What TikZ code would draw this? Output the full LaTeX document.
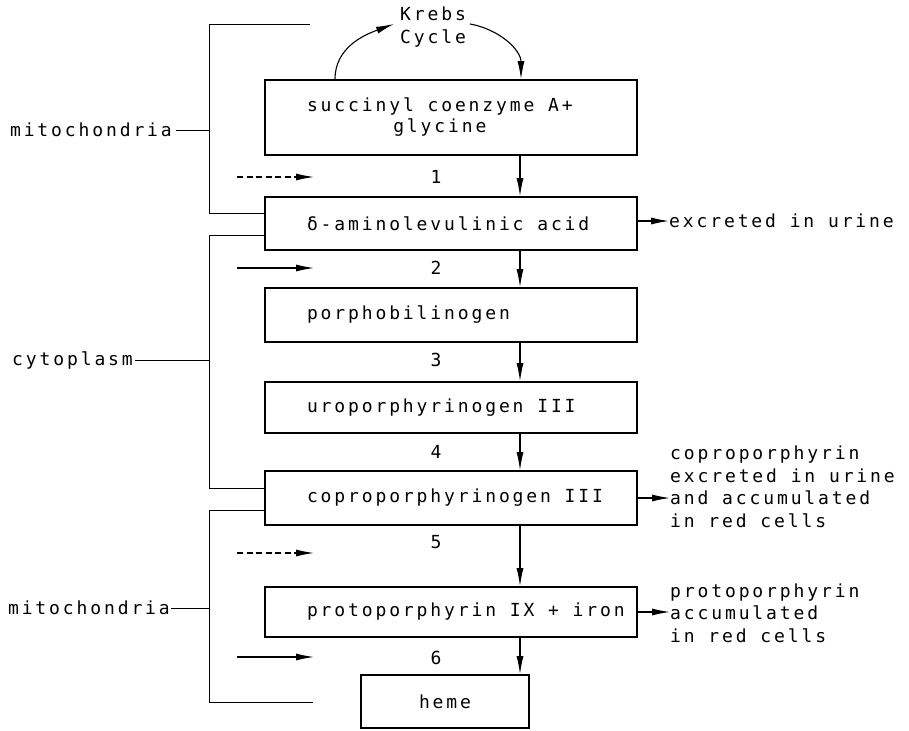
\documentclass[tikz,border=0pt]{standalone}
\usepackage{fontspec}
\setmainfont{DejaVu Sans Mono}[LetterSpace=16]
\usetikzlibrary{arrows.meta}
\tikzset{
  box/.style={draw, line width=1.7pt, minimum width=372pt, inner sep=0pt},
  txt/.style={inner sep=0pt, align=left},
  conn/.style={line width=1.1pt, -{Latex[length=18pt,width=7pt]}},
  conndash/.style={conn, dash pattern=on 6pt off 3.5pt},
  brk/.style={line width=0.9pt},
}
\newcommand{\lbox}[1]{\makebox[288pt][l]{#1}}
\begin{document}
\begin{tikzpicture}[x=1pt,y=-1pt,font=\fontsize{18}{22.5}\selectfont]
\useasboundingbox (0,0) rectangle (909,730);
% boxes
\node[box, minimum height=75pt] (b1) at (451,117.5) {\lbox{\begin{tabular}{@{}c@{}}succinyl coenzyme A+\\[-1pt] glycine\end{tabular}}};
\node[box, minimum height=53pt] (b2) at (451,223.5) {\lbox{δ-aminolevulinic acid}};
\node[box, minimum height=54pt] (b3) at (451,315) {\lbox{porphobilinogen}};
\node[box, minimum height=51pt] (b4) at (451,407.5) {\lbox{uroporphyrinogen III}};
\node[box, minimum height=54pt] (b5) at (451,498) {\lbox{coproporphyrinogen III}};
\node[box, minimum height=50pt] (b6) at (451,612) {\lbox{protoporphyrin IX + iron}};
\node[box, minimum height=53pt, minimum width=168pt] (b7) at (445,701.5) {heme};
% Krebs
\node[txt, align=center] (kc) at (433,27) {Krebs\\Cycle};
\coordinate (kl) at (394,24);
\coordinate (kr) at (470,24);
\draw[conn] (b1.north -| 335,0) to[out=90,in=200] (kl);
\draw[conn] (kr) to[out=-10,in=90] (b1.north -| 521,0);
% vertical arrows
\coordinate (ax) at (520,0);
\draw[conn] (b1.south -| ax) -- (b2.north -| ax);
\draw[conn] (b2.south -| ax) -- (b3.north -| ax);
\draw[conn] (b3.south -| ax) -- (b4.north -| ax);
\draw[conn] (b4.south -| ax) -- (b5.north -| ax);
\draw[conn] (b5.south -| ax) -- (b6.north -| ax);
\draw[conn] (b6.south -| ax) -- (b7.north -| ax);
% step numbers
\node[txt] (n1) at (436,177) {1};
\node[txt] (n2) at (436,268) {2};
\node[txt] (n3) at (436,360) {3};
\node[txt] (n4) at (436,452) {4};
\node[txt] (n5) at (436,542) {5};
\node[txt] (n6) at (436,658) {6};
% left small arrows
\coordinate (a1s) at (237,177); \coordinate (a1e) at (314,177);
\coordinate (a2s) at (237,268); \coordinate (a2e) at (314,268);
\coordinate (a3s) at (237,553); \coordinate (a3e) at (314,553);
\coordinate (a4s) at (237,657); \coordinate (a4e) at (314,657);
\draw[conndash] (a1s) -- (a1e);
\draw[conn] (a2s) -- (a2e);
\draw[conndash] (a3s) -- (a3e);
\draw[conn] (a4s) -- (a4e);
% brackets
\coordinate (t1) at (310,24);
\coordinate (bx) at (209,0);
\draw[brk] (t1) -- (t1 -| bx) -- (bx |- 0,213) -- (b2.west |- 0,213);
\draw[brk] (b2.west |- 0,235) -- (bx |- 0,235) -- (bx |- 0,488) -- (b5.west |- 0,488);
\coordinate (t3) at (313,702);
\draw[brk] (b5.west |- 0,510) -- (bx |- 0,510) -- (bx |- t3) -- (t3);
% bracket labels
\node[txt, anchor=east] (l1) at (172,130) {mitochondria};
\node[txt, anchor=east] (l2) at (133,360) {cytoplasm};
\node[txt, anchor=east] (l3) at (170,608) {mitochondria};
\draw[brk] ([xshift=4pt]l1.east) -- (l1.east -| bx);
\draw[brk] ([xshift=2pt]l2.east) -- (l2.east -| bx);
\draw[brk] ([xshift=1pt]l3.east) -- (l3.east -| bx);
% right side outputs
\node[txt, anchor=west] (r1) at (669,221) {excreted in urine};
\draw[conn] (b2.east |- r1.west) -- (r1.west);
\node[txt, anchor=west] (r2) at (670,487) {coproporphyrin\\excreted in urine\\and accumulated\\in red cells};
\draw[conn] (b5.east) -- (b5.east -| r2.west);
\node[txt, anchor=west] (r3) at (670,613) {protoporphyrin\\accumulated\\in red cells};
\draw[conn] (b6.east) -- (b6.east -| r3.west);
\end{tikzpicture}
\end{document}
